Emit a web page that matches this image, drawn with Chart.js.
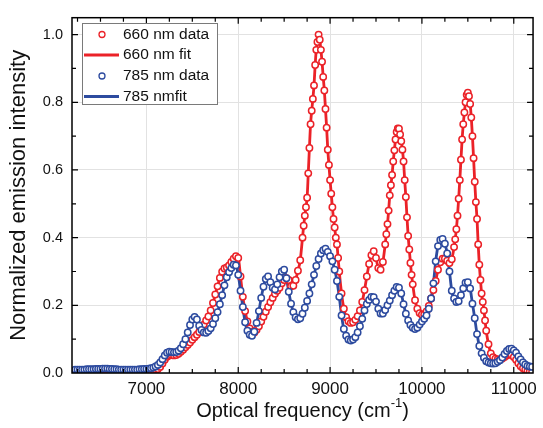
<!DOCTYPE html>
<html>
<head>
<meta charset="utf-8">
<script src="https://cdn.jsdelivr.net/npm/chart.js@4"></script>
<style>
  html, body { margin: 0; padding: 0; background: #fff; }
  #wrap { width: 543px; height: 428px; }
</style>
</head>
<body>
<div id="wrap"><canvas id="spectra" width="543" height="428"></canvas></div>
<script>
// optical frequency of the 660 nm spectrum, cm-1 (denser across its three main peaks)
const freq660 = [
  6225, 6250, 6275, 6300, 6325, 6350, 6375, 6400, 6425, 6450,
  6475, 6500, 6525, 6550, 6575, 6600, 6625, 6650, 6675, 6700,
  6725, 6750, 6775, 6800, 6825, 6850, 6875, 6900, 6925, 6950,
  6975, 7000, 7025, 7050, 7075, 7100, 7125, 7150, 7175, 7200,
  7225, 7250, 7275, 7300, 7325, 7350, 7375, 7400, 7425, 7450,
  7475, 7500, 7525, 7550, 7575, 7600, 7625, 7650, 7675, 7700,
  7725, 7750, 7775, 7800, 7825, 7850, 7875, 7900, 7925, 7950,
  7975, 8000, 8025, 8050, 8075, 8100, 8125, 8150, 8175, 8200,
  8225, 8250, 8275, 8300, 8325, 8350, 8375, 8400, 8425, 8450,
  8475, 8500, 8525, 8550, 8575, 8600, 8625, 8650, 8675,
  8700, 8712.5, 8725, 8737.5, 8750, 8762.5, 8775, 8787.5, 8800,
  8812.5, 8825, 8837.5, 8850, 8862.5, 8875, 8887.5, 8900, 8912.5,
  8925, 8937.5, 8950, 8962.5, 8975, 8987.5, 9000, 9012.5, 9025,
  9037.5, 9050, 9062.5, 9075, 9087.5, 9100,
  9125, 9150, 9175, 9200, 9225, 9250, 9275, 9300, 9325, 9350,
  9375, 9400, 9425, 9450, 9475, 9500, 9525, 9550, 9575,
  9600, 9612.5, 9625, 9637.5, 9650, 9662.5, 9675, 9687.5, 9700,
  9712.5, 9725, 9737.5, 9750, 9762.5, 9775, 9787.5, 9800, 9812.5,
  9825, 9837.5, 9850, 9862.5, 9875, 9887.5, 9900,
  9925, 9950, 9975, 10000, 10025, 10050, 10075, 10100, 10125, 10150,
  10175, 10200, 10225, 10250, 10275, 10300, 10325,
  10350, 10362.5, 10375, 10387.5, 10400, 10412.5, 10425, 10437.5, 10450,
  10462.5, 10475, 10487.5, 10500, 10512.5, 10525, 10537.5, 10550, 10562.5,
  10575, 10587.5, 10600, 10612.5, 10625, 10637.5, 10650, 10662.5, 10675, 10687.5, 10700,
  10725, 10750, 10775, 10800, 10825, 10850, 10875, 10900, 10925, 10950,
  10975, 11000, 11025, 11050, 11075, 11100, 11125, 11150, 11175, 11200
];

// normalized emission, 660 nm excitation
const data660 = [
  0.008, 0.008, 0.008, 0.008, 0.008, 0.009, 0.009, 0.009, 0.009, 0.009,
  0.009, 0.010, 0.010, 0.010, 0.010, 0.009, 0.009, 0.009, 0.008, 0.008,
  0.008, 0.007, 0.007, 0.007, 0.007, 0.007, 0.007, 0.007, 0.007, 0.008,
  0.008, 0.008, 0.008, 0.008, 0.009, 0.010, 0.012, 0.018, 0.028, 0.039,
  0.048, 0.052, 0.053, 0.052, 0.053, 0.057, 0.063, 0.069, 0.076, 0.083,
  0.090, 0.098, 0.106, 0.113, 0.121, 0.132, 0.143, 0.155, 0.167, 0.185,
  0.207, 0.232, 0.256, 0.281, 0.299, 0.309, 0.312, 0.318, 0.328, 0.338,
  0.345, 0.340, 0.285, 0.225, 0.183, 0.152, 0.132, 0.122, 0.120, 0.128,
  0.138, 0.152, 0.166, 0.181, 0.195, 0.209, 0.222, 0.234, 0.243, 0.252,
  0.265, 0.275, 0.280, 0.275, 0.256, 0.258, 0.275, 0.302, 0.333,
  0.400, 0.435, 0.465, 0.490, 0.518, 0.590, 0.665, 0.735, 0.775,
  0.810, 0.850, 0.910, 0.955, 0.978, 1.000, 0.985, 0.955, 0.920,
  0.875, 0.835, 0.780, 0.725, 0.660, 0.615, 0.570, 0.530, 0.490,
  0.455, 0.430, 0.400, 0.380, 0.340, 0.300,
  0.235, 0.190, 0.165, 0.153, 0.148, 0.150, 0.157, 0.168, 0.185, 0.210,
  0.245, 0.285, 0.322, 0.348, 0.360, 0.340, 0.310, 0.305, 0.328,
  0.380, 0.410, 0.440, 0.480, 0.525, 0.555, 0.585, 0.625, 0.658,
  0.690, 0.712, 0.723, 0.722, 0.705, 0.685, 0.660, 0.625, 0.570,
  0.520, 0.460, 0.405, 0.365, 0.325, 0.290, 0.262,
  0.215, 0.190, 0.177, 0.172, 0.172, 0.182, 0.198, 0.220, 0.245, 0.272,
  0.305, 0.327, 0.338, 0.338, 0.332, 0.325, 0.336,
  0.372, 0.395, 0.425, 0.465, 0.515, 0.570, 0.630, 0.690, 0.735,
  0.770, 0.800, 0.822, 0.828, 0.818, 0.795, 0.755, 0.700, 0.635,
  0.565, 0.505, 0.455, 0.380, 0.320, 0.275, 0.235, 0.210, 0.185, 0.155, 0.125,
  0.085, 0.058, 0.047, 0.042, 0.040, 0.040, 0.043, 0.047, 0.052, 0.055,
  0.054, 0.047, 0.039, 0.029, 0.020, 0.014, 0.010, 0.007, 0.005, 0.004
];

// optical frequency of the 785 nm spectrum, cm-1
const freq785 = [
  6225, 6250, 6275, 6300, 6325, 6350, 6375, 6400, 6425, 6450,
  6475, 6500, 6525, 6550, 6575, 6600, 6625, 6650, 6675, 6700,
  6725, 6750, 6775, 6800, 6825, 6850, 6875, 6900, 6925, 6950,
  6975, 7000, 7025, 7050, 7075, 7100, 7125, 7150, 7175, 7200,
  7225, 7250, 7275, 7300, 7325, 7350, 7375, 7400, 7425, 7450,
  7475, 7500, 7525, 7550, 7575, 7600, 7625, 7650, 7675, 7700,
  7725, 7750, 7775, 7800, 7825, 7850, 7875, 7900, 7925, 7950,
  7975, 8000, 8025, 8050, 8075, 8100, 8125, 8150, 8175, 8200,
  8225, 8250, 8275, 8300, 8325, 8350, 8375, 8400, 8425, 8450,
  8475, 8500, 8525, 8550, 8575, 8600, 8625, 8650, 8675, 8700,
  8725, 8750, 8775, 8800, 8825, 8850, 8875, 8900, 8925, 8950,
  8975, 9000, 9025, 9050, 9075, 9100, 9125, 9150, 9175, 9200,
  9225, 9250, 9275, 9300, 9325, 9350, 9375, 9400, 9425, 9450,
  9475, 9500, 9525, 9550, 9575, 9600, 9625, 9650, 9675, 9700,
  9725, 9750, 9775, 9800, 9825, 9850, 9875, 9900, 9925, 9950,
  9975, 10000, 10025, 10050, 10075, 10100, 10125, 10150, 10175, 10200,
  10225, 10250, 10275, 10300, 10325, 10350, 10375, 10400, 10425, 10450,
  10475, 10500, 10525, 10550, 10575, 10600, 10625, 10650, 10675, 10700,
  10725, 10750, 10775, 10800, 10825, 10850, 10875, 10900, 10925, 10950,
  10975, 11000, 11025, 11050, 11075, 11100, 11125, 11150, 11175, 11200
];

// normalized emission, 785 nm excitation
const data785 = [
  0.010, 0.010, 0.010, 0.010, 0.010, 0.011, 0.011, 0.011, 0.011, 0.012,
  0.012, 0.012, 0.013, 0.013, 0.013, 0.012, 0.012, 0.011, 0.011, 0.010,
  0.010, 0.010, 0.010, 0.010, 0.010, 0.010, 0.010, 0.010, 0.011, 0.011,
  0.012, 0.012, 0.013, 0.014, 0.016, 0.019, 0.024, 0.031, 0.041, 0.052,
  0.060, 0.063, 0.062, 0.061, 0.062, 0.066, 0.073, 0.085, 0.100, 0.120,
  0.142, 0.158, 0.166, 0.158, 0.140, 0.127, 0.120, 0.119, 0.124, 0.132,
  0.145, 0.162, 0.180, 0.203, 0.230, 0.259, 0.283, 0.298, 0.310, 0.320,
  0.318, 0.290, 0.243, 0.195, 0.150, 0.125, 0.113, 0.110, 0.122, 0.148,
  0.183, 0.222, 0.255, 0.278, 0.285, 0.268, 0.252, 0.247, 0.262, 0.283,
  0.300, 0.305, 0.280, 0.240, 0.205, 0.180, 0.165, 0.159, 0.162, 0.175,
  0.193, 0.213, 0.235, 0.262, 0.290, 0.316, 0.337, 0.353, 0.363, 0.367,
  0.358, 0.345, 0.330, 0.305, 0.272, 0.225, 0.170, 0.130, 0.110, 0.099,
  0.096, 0.099, 0.106, 0.120, 0.138, 0.160, 0.185, 0.204, 0.216, 0.225,
  0.224, 0.211, 0.190, 0.176, 0.176, 0.186, 0.200, 0.214, 0.230, 0.243,
  0.254, 0.252, 0.235, 0.203, 0.175, 0.155, 0.142, 0.134, 0.130, 0.134,
  0.143, 0.152, 0.160, 0.170, 0.190, 0.220, 0.265, 0.330, 0.375, 0.393,
  0.396, 0.382, 0.353, 0.300, 0.243, 0.220, 0.210, 0.212, 0.230, 0.250,
  0.267, 0.268, 0.250, 0.205, 0.162, 0.115, 0.080, 0.058, 0.045, 0.035,
  0.031, 0.029, 0.028, 0.029, 0.033, 0.038, 0.046, 0.056, 0.065, 0.071,
  0.072, 0.067, 0.060, 0.049, 0.040, 0.031, 0.025, 0.021, 0.019, 0.018
];

const xTicks = [7000, 8000, 9000, 10000, 11000];
const yTicks = [0, 0.2, 0.4, 0.6, 0.8, 1.0];
const seriesNames = ['660 nm data', '660 nm fit', '785 nm data', '785 nmfit'];

const RED = '#eb2228';
const BLUE = '#2d4b9f';
const FONT = "'Liberation Sans', Arial, sans-serif";

const toPoints = (xs, ys) => xs.map((f, i) => ({ x: f, y: ys[i] }));

const markerSet = (label, xs, ys, color, order) => ({
  label, data: toPoints(xs, ys), order,
  showLine: false,
  borderColor: color,
  backgroundColor: '#fff',
  pointRadius: 3.2,
  pointBorderWidth: 1.5,
  pointBackgroundColor: '#fff',
  pointBorderColor: color
});

const fitSet = (label, xs, ys, color, order) => ({
  label, data: toPoints(xs, ys), order,
  borderColor: color,
  borderWidth: 2.8,
  pointRadius: 0,
  cubicInterpolationMode: 'monotone'
});

// inward ticks on all four sides, frame, boxed legend and x title with superscript
const framePlugin = {
  id: 'frame',
  afterDraw(chart) {
    const { ctx, chartArea: a, scales: { x, y } } = chart;
    ctx.save();
    ctx.strokeStyle = '#000';
    ctx.lineWidth = 1.2;
    ctx.beginPath();
    for (let v = 6250; v <= x.max; v += 250) {
      const px = x.getPixelForValue(v);
      const len = v % 1000 === 0 ? 6 : 4;
      ctx.moveTo(px, a.bottom); ctx.lineTo(px, a.bottom - len);
      ctx.moveTo(px, a.top); ctx.lineTo(px, a.top + len);
    }
    for (let k = 1; k <= 10; k++) {
      const py = y.getPixelForValue(k / 10);
      const len = k % 2 === 0 ? 6 : 4;
      ctx.moveTo(a.left, py); ctx.lineTo(a.left + len, py);
      ctx.moveTo(a.right, py); ctx.lineTo(a.right - len, py);
    }
    ctx.stroke();
    ctx.lineWidth = 1.5;
    ctx.strokeRect(a.left, a.top, a.right - a.left, a.bottom - a.top);

    // legend
    const bx = 82.5, by = 23.5, bw = 135, bh = 81;
    ctx.fillStyle = '#fff';
    ctx.fillRect(bx, by, bw, bh);
    ctx.strokeStyle = '#7a7a7a';
    ctx.lineWidth = 1;
    ctx.strokeRect(bx, by, bw, bh);
    const rowY = [34.5, 55, 76, 96.5];
    ctx.font = `15.5px ${FONT}`;
    ctx.textBaseline = 'middle';
    ctx.textAlign = 'left';
    chart.data.datasets.forEach((ds, i) => {
      const cy = rowY[i];
      if (ds.showLine === false) {
        ctx.beginPath();
        ctx.arc(102, cy, 3, 0, Math.PI * 2);
        ctx.fillStyle = '#fff';
        ctx.fill();
        ctx.lineWidth = 1.3;
        ctx.strokeStyle = ds.borderColor;
        ctx.stroke();
      } else {
        ctx.beginPath();
        ctx.moveTo(84, cy); ctx.lineTo(119, cy);
        ctx.lineWidth = ds.borderWidth;
        ctx.strokeStyle = ds.borderColor;
        ctx.stroke();
      }
      ctx.fillStyle = '#111';
      ctx.fillText(ds.label, 123, cy);
    });

    // x axis title with superscript
    const main = 'Optical frequency (cm', sup = '-1', close = ')';
    ctx.font = `20px ${FONT}`;
    const w1 = ctx.measureText(main).width, w3 = ctx.measureText(close).width;
    ctx.font = `13px ${FONT}`;
    const w2 = ctx.measureText(sup).width;
    let sx = (a.left + a.right) / 2 - (w1 + w2 + w3) / 2;
    const ty = 411;
    ctx.fillStyle = '#111';
    ctx.font = `20px ${FONT}`;
    ctx.fillText(main, sx, ty); sx += w1;
    ctx.font = `13px ${FONT}`;
    ctx.fillText(sup, sx, ty - 8); sx += w2;
    ctx.font = `20px ${FONT}`;
    ctx.fillText(close, sx, ty);
    ctx.restore();
  }
};

const ctx = document.getElementById('spectra').getContext('2d');
const chart = new Chart(ctx, {
  type: 'line',
  data: {
    datasets: [
      markerSet(seriesNames[0], freq660, data660, RED, 1),
      fitSet(seriesNames[1], freq660, data660, RED, 3),
      markerSet(seriesNames[2], freq785, data785, BLUE, 0),
      fitSet(seriesNames[3], freq785, data785, BLUE, 2)
    ]
  },
  options: {
    responsive: false,
    animation: false,
    layout: { padding: { top: 13, right: 4, left: 0, bottom: 0 } },
    plugins: {
      legend: { display: false },
      tooltip: { enabled: false }
    },
    scales: {
      x: {
        type: 'linear',
        min: 6190,
        max: 11210,
        afterBuildTicks: (s) => { s.ticks = xTicks.map(v => ({ value: v })); },
        afterFit: (s) => { s.height = 55; },
        grid: { color: '#e2e2e2', lineWidth: 1, drawTicks: false },
        border: { display: false },
        ticks: {
          padding: 6,
          color: '#111',
          font: { family: FONT, size: 17 },
          maxRotation: 0,
          callback: (v) => String(v)
        }
      },
      y: {
        min: 0,
        max: 1.05,
        afterBuildTicks: (s) => { s.ticks = yTicks.map(v => ({ value: v })); },
        afterFit: (s) => { s.width = 72; },
        grid: { color: '#e2e2e2', lineWidth: 1, drawTicks: false },
        border: { display: false },
        ticks: {
          padding: 9,
          color: '#111',
          font: { family: FONT, size: 14.5 },
          callback: (v) => v.toFixed(1)
        },
        title: {
          display: true,
          text: 'Normalized emission intensity',
          color: '#111',
          font: { family: FONT, size: 22 },
          padding: { top: 6, bottom: 0 }
        }
      }
    }
  },
  plugins: [framePlugin]
});
</script>
</body>
</html>
